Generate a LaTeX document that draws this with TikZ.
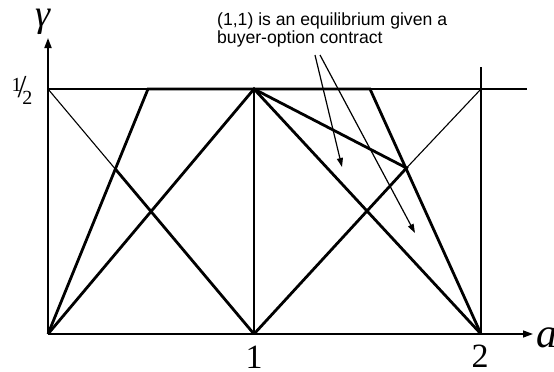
\documentclass[tikz,border=0pt]{standalone}
\usepackage{fontspec}
\setmainfont{Liberation Serif}
\newfontfamily\annfont{Liberation Sans}
\usetikzlibrary{arrows.meta}
\tikzset{
  thinline/.style={line width=1.1pt},
  thickline/.style={line width=2.8pt, line join=miter},
  axisline/.style={line width=1.8pt},
  pointer/.style={line width=1.2pt, -{Triangle[length=9pt,width=6pt]}},
  lbl/.style={inner sep=0pt},
}
\begin{document}
\begin{tikzpicture}[x=1pt,y=-1pt]
\useasboundingbox (0,0) rectangle (554,372);
% key points
\coordinate (O) at (48,334);
\coordinate (H0) at (48,89);
\coordinate (X1) at (254,334);
\coordinate (X2) at (481,334);
\coordinate (T1) at (254,89);
\coordinate (T2) at (481,89);
\coordinate (TL) at (148,89);
\coordinate (TR) at (370,89);
\coordinate (PL) at (115.3,169);
\coordinate (PR) at (406.5,168);
\coordinate (Hend) at (527,89);
\coordinate (V2top) at (481,67);
\coordinate (Ytip) at (48,38);
\coordinate (Xtip) at (533,334);
% thin lines
\draw[thinline] (H0) -- (Hend);
\draw[thinline] (T1) -- (X1);
\draw[thinline] (V2top) -- (X2);
\draw[thinline] (H0) -- (PL);
\draw[thinline] (T2) -- (PR);
% thick lines
\draw[thickline] (O) -- (TL) -- (TR) -- (X2);
\draw[thickline] (O) -- (T1) -- (X2);
\draw[thickline] (PL) -- (X1);
\draw[thickline] (T1) -- (PR) -- (X1);
% axes
\draw[line width=2.8pt] (O) -- (X2);
\draw[line width=1.4pt, -{Triangle[length=10pt,width=7pt]}] (X2) -- (Xtip);
\draw[axisline, -{Triangle[length=10pt,width=7pt]}] (O) -- (Ytip);
% labels
\node[lbl] (gam) at (43,22) {\fontsize{38}{38}\selectfont\itshape γ};
\node[lbl, anchor=base west] (alab) at (536,347) {\fontsize{42}{42}\selectfont\itshape a};
\node[lbl, anchor=base] (one) at (254,368) {\fontsize{34}{34}\selectfont 1};
\node[lbl, anchor=base] (two) at (480,367) {\fontsize{34}{34}\selectfont 2};
\node[lbl] (half) at (22,90) {\fontsize{20}{20}\selectfont\raisebox{6pt}{1}\kern-4pt{\fontsize{32}{32}\selectfont/}\kern-4pt\raisebox{-7pt}{2}};
\node[lbl, anchor=north west, align=left, font=\annfont\fontsize{17.6}{18}\selectfont] (note) at (217,13) {(1,1) is an equilibrium given a\\buyer-option contract};
% pointers
\coordinate (s1) at (315,55);
\coordinate (s2) at (320,55);
\coordinate (e1) at (342,167);
\coordinate (e2) at (415,233);
\draw[pointer] (s1) -- (e1);
\draw[pointer] (s2) -- (e2);
\end{tikzpicture}
\end{document}
